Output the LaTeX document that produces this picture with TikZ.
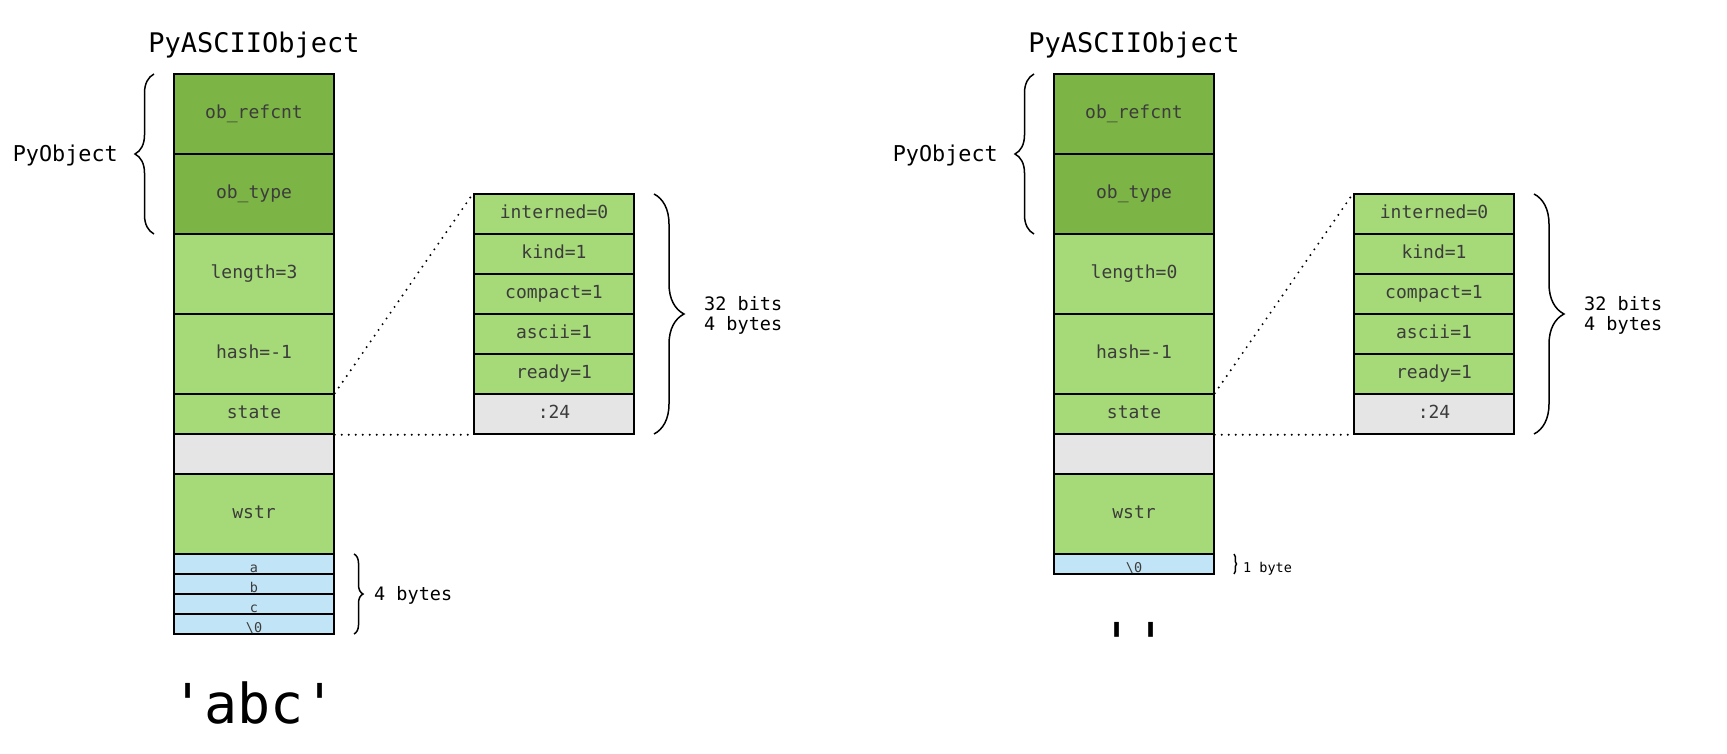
\documentclass[tikz,border=0pt]{standalone}
\usepackage{fontspec}
\newfontfamily\dmono{DejaVu Sans Mono}
\usetikzlibrary{decorations.pathreplacing}
\definecolor{dkgreen}{RGB}{124,180,70}
\definecolor{ltgreen}{RGB}{166,218,120}
\definecolor{ltblue}{RGB}{193,228,246}
\definecolor{ltgray}{RGB}{229,229,229}
\definecolor{celltext}{RGB}{60,60,60}
\tikzset{
  cellbox/.style={draw, line width=1.5pt, minimum width=160pt, inner sep=0pt,
    font={\dmono\fontsize{18}{21}\selectfont}, text=celltext,
    text height=12.6pt, text depth=2.7pt},
  tallcell/.style={cellbox, minimum height=80pt},
  midcell/.style={cellbox, minimum height=40pt},
  smallcell/.style={cellbox, minimum height=20pt, fill=ltblue,
    font={\dmono\fontsize{13.5}{16}\selectfont}, text height=16pt, text depth=0pt},
  dkfill/.style={fill=dkgreen},
  ltfill/.style={fill=ltgreen},
  grfill/.style={fill=ltgray},
  titletext/.style={inner sep=0pt, font={\dmono\fontsize{27}{32}\selectfont}},
  pyobjtext/.style={inner sep=0pt, font={\dmono\fontsize{21.8}{26}\selectfont}},
  labeltext/.style={inner sep=0pt, font={\dmono\fontsize{18.5}{21}\selectfont}},
  smalllabel/.style={inner sep=0pt, font={\dmono\fontsize{13.5}{16}\selectfont}},
  bigtext/.style={inner sep=0pt, font={\dmono\fontsize{55}{60}\selectfont}},
  bracestyle/.style={decorate, line width=1.5pt},
  dotline/.style={line width=2.2pt, line cap=round, dash pattern=on 0pt off 7pt}
}
\begin{document}
\begin{tikzpicture}[x=1pt,y=-1pt]
\useasboundingbox (0,0) rectangle (1727,754);
% ---------------- left diagram ----------------
\node[titletext, anchor=base] (titleL) at (254,53) {PyASCIIObject};
\node[tallcell, dkfill] (refL) at (254,114) {ob\_refcnt};
\node[tallcell, dkfill] (typeL) at (254,194) {ob\_type};
\node[tallcell, ltfill] (lenL) at (254,274) {length=3};
\node[tallcell, ltfill] (hashL) at (254,354) {hash=-1};
\node[midcell, ltfill] (stateL) at (254,414) {state};
\node[midcell, grfill] (padL) at (254,454) {};
\node[tallcell, ltfill] (wstrL) at (254,514) {wstr};
\node[smallcell] (aL) at (254,564) {a};
\node[smallcell] (bL) at (254,584) {b};
\node[smallcell] (cL) at (254,604) {c};
\node[smallcell] (zL) at (254,624) {\textbackslash0};

\node[midcell, ltfill] (internL) at (554,214) {interned=0};
\node[midcell, ltfill] (kindL) at (554,254) {kind=1};
\node[midcell, ltfill] (compactL) at (554,294) {compact=1};
\node[midcell, ltfill] (asciiL) at (554,334) {ascii=1};
\node[midcell, ltfill] (readyL) at (554,374) {ready=1};
\node[midcell, grfill] (restL) at (554,414) {:24};

\draw[dotline] (stateL.north east) -- (internL.north west);
\draw[dotline] (stateL.south east) -- (restL.south west);

\node[pyobjtext, anchor=base east] (pyobjL) at (118,162) {PyObject};
\draw[bracestyle, decoration={brace, amplitude=19pt}] (154,234) -- (154,74);
\draw[bracestyle, decoration={brace, amplitude=30pt}] (654,194) -- (654,434);
\node[labeltext, anchor=base west] (bitsL) at (704,310) {32 bits};
\node[labeltext, anchor=base west] (bytesL) at (704,330.7) {4 bytes};
\draw[bracestyle, decoration={brace, amplitude=9pt}] (354,554) -- (354,634);
\node[labeltext, anchor=base west] (fourL) at (374,600) {4 bytes};
\node[bigtext, anchor=base] (strL) at (254,723) {'abc'};

% ---------------- right diagram ----------------
\node[titletext, anchor=base] (titleR) at (1134,53) {PyASCIIObject};
\node[tallcell, dkfill] (refR) at (1134,114) {ob\_refcnt};
\node[tallcell, dkfill] (typeR) at (1134,194) {ob\_type};
\node[tallcell, ltfill] (lenR) at (1134,274) {length=0};
\node[tallcell, ltfill] (hashR) at (1134,354) {hash=-1};
\node[midcell, ltfill] (stateR) at (1134,414) {state};
\node[midcell, grfill] (padR) at (1134,454) {};
\node[tallcell, ltfill] (wstrR) at (1134,514) {wstr};
\node[smallcell] (zR) at (1134,564) {\textbackslash0};

\node[midcell, ltfill] (internR) at (1434,214) {interned=0};
\node[midcell, ltfill] (kindR) at (1434,254) {kind=1};
\node[midcell, ltfill] (compactR) at (1434,294) {compact=1};
\node[midcell, ltfill] (asciiR) at (1434,334) {ascii=1};
\node[midcell, ltfill] (readyR) at (1434,374) {ready=1};
\node[midcell, grfill] (restR) at (1434,414) {:24};

\draw[dotline] (stateR.north east) -- (internR.north west);
\draw[dotline] (stateR.south east) -- (restR.south west);

\node[pyobjtext, anchor=base east] (pyobjR) at (998,162) {PyObject};
\draw[bracestyle, decoration={brace, amplitude=19pt}] (1034,234) -- (1034,74);
\draw[bracestyle, decoration={brace, amplitude=30pt}] (1534,194) -- (1534,434);
\node[labeltext, anchor=base west] (bitsR) at (1584,310) {32 bits};
\node[labeltext, anchor=base west] (bytesR) at (1584,330.7) {4 bytes};
\draw[bracestyle, decoration={brace, amplitude=2.5pt}] (1234,554) -- (1234,574);
\node[smalllabel, anchor=base west] (oneR) at (1243,572) {1 byte};
\node[bigtext, anchor=base] (strR) at (1134,662) {''};
\end{tikzpicture}
\end{document}
